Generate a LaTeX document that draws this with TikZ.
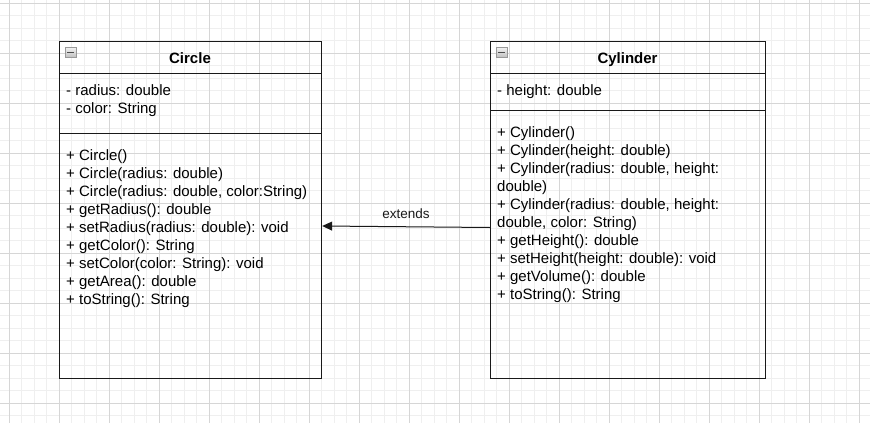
\documentclass[tikz,border=0pt]{standalone}
\usepackage{fontspec}
\setmainfont{Liberation Sans}
\usetikzlibrary{arrows.meta}

\definecolor{gridminor}{RGB}{239,239,239}
\definecolor{gridmajor}{RGB}{214,214,214}
\definecolor{umlline}{RGB}{25,25,25}

\begin{document}
\begin{tikzpicture}[
    x=1pt, y=-1pt,
    every node/.style={
        inner sep=0pt,
        font=\fontsize{15}{18}\selectfont
    },
    part/.style={draw=umlline, line width=1.2pt, anchor=north west},
    title/.style={anchor=base, font=\fontsize{15}{18}\selectfont\bfseries},
    member/.style={anchor=base west},
    fold/.style={
        draw=gray!80, top color=gray!10, bottom color=gray!50,
        minimum width=11pt, minimum height=10pt,
        path picture={\draw[line width=1.6pt, black!70]
            ([xshift=-3.5pt]path picture bounding box.center) --
            ([xshift=3.5pt]path picture bounding box.center);}
    },
    minorline/.style={gridminor, line width=1pt},
    majorline/.style={gridmajor, line width=1pt},
    extends/.style={-{Triangle[length=10pt,width=9pt]}, line width=1pt, umlline}
]

\useasboundingbox (0,0) rectangle (870,423);
\fill[white] (0,0) rectangle (870,423);

% Background grid
\foreach \gx in {0,...,68}
    \draw[minorline] ({9.3+12.5*\gx},0) -- ({9.3+12.5*\gx},423);
\foreach \gy in {0,...,33}
    \draw[minorline] (0,{3.3+12.5*\gy}) -- (870,{3.3+12.5*\gy});
\foreach \gx in {0,...,17}
    \draw[majorline] ({9.3+50*\gx},0) -- ({9.3+50*\gx},423);
\foreach \gy in {0,...,8}
    \draw[majorline] (0,{3.3+50*\gy}) -- (870,{3.3+50*\gy});

% Circle class
\node[part, minimum width=262pt, minimum height=32pt]  (circleHead)  at (59,41)  {};
\node[part, minimum width=262pt, minimum height=60pt]  (circleAttrs) at (59,73)  {};
\node[part, minimum width=262pt, minimum height=245pt] (circleOps)   at (59,133) {};
\node[fold]  (circleFold)  at (70.5,52.3) {};
\node[title] (circleTitle) at (190,63)  {Circle};

\foreach \txt [count=\i] in {{- radius: double}, {- color: String}}
    \node[member] (circleAttr\i) at (66,{95.5+18*(\i-1)}) {\txt};

\foreach \txt [count=\i] in {
    {+ Circle()},
    {+ Circle(radius: double)},
    {+ Circle(radius: double, color:String)},
    {+ getRadius(): double},
    {+ setRadius(radius: double): void},
    {+ getColor(): String},
    {+ setColor(color: String): void},
    {+ getArea(): double},
    {+ toString(): String}}
    \node[member] (circleOp\i) at (66,{160.5+18*(\i-1)}) {\txt};

% Cylinder class
\node[part, minimum width=275pt, minimum height=32pt]  (cylHead)  at (490,41)  {};
\node[part, minimum width=275pt, minimum height=37pt]  (cylAttrs) at (490,73)  {};
\node[part, minimum width=275pt, minimum height=268pt] (cylOps)   at (490,110) {};
\node[fold]  (cylFold)  at (501.5,52.3) {};
\node[title] (cylTitle) at (627.5,63) {Cylinder};

\node[member] (cylAttr1) at (497,95.5) {- height: double};

\foreach \txt [count=\i] in {
    {+ Cylinder()},
    {+ Cylinder(height: double)},
    {+ Cylinder(radius: double, height:},
    {double)},
    {+ Cylinder(radius: double, height:},
    {double, color: String)},
    {+ getHeight(): double},
    {+ setHeight(height: double): void},
    {+ getVolume(): double},
    {+ toString(): String}}
    \node[member] (cylOp\i) at (497,{137.5+18*(\i-1)}) {\txt};

% Inheritance
\draw[extends] (cylOps.west |- 0,227.5) -- (circleOps.east |- 0,226)
    node[midway, above=7.5pt, font=\fontsize{13.5}{16}\selectfont] (extendsLabel) {extends};

\end{tikzpicture}
\end{document}
